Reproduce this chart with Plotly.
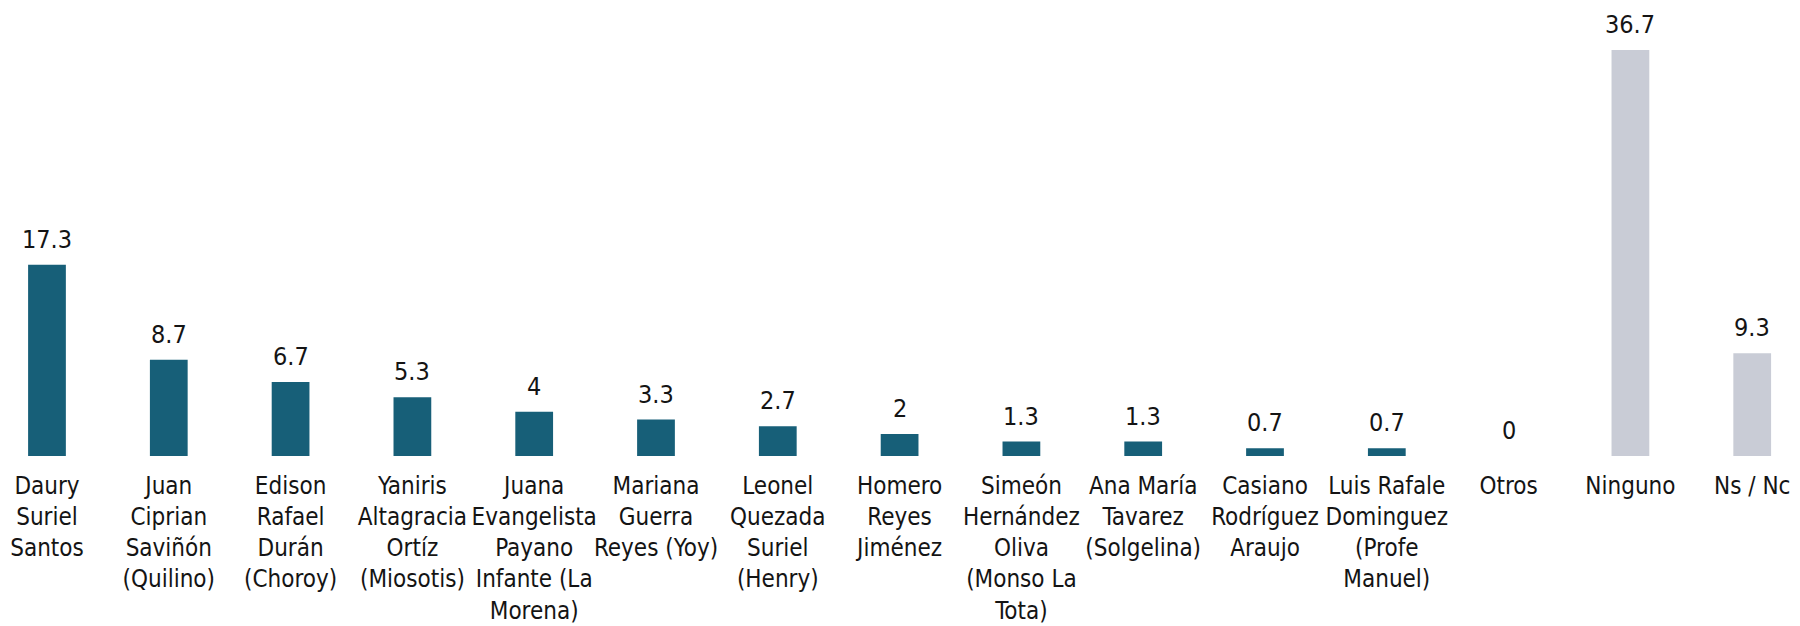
import plotly.graph_objects as go

categories = [
    "Daury<br>Suriel<br>Santos",
    "Juan<br>Ciprian<br>Saviñón<br>(Quilino)",
    "Edison<br>Rafael<br>Durán<br>(Choroy)",
    "Yaniris<br>Altagracia<br>Ortíz<br>(Miosotis)",
    "Juana<br>Evangelista<br>Payano<br>Infante (La<br>Morena)",
    "Mariana<br>Guerra<br>Reyes (Yoy)",
    "Leonel<br>Quezada<br>Suriel<br>(Henry)",
    "Homero<br>Reyes<br>Jiménez",
    "Simeón<br>Hernández<br>Oliva<br>(Monso La<br>Tota)",
    "Ana María<br>Tavarez<br>(Solgelina)",
    "Casiano<br>Rodríguez<br>Araujo",
    "Luis Rafale<br>Dominguez<br>(Profe<br>Manuel)",
    "Otros",
    "Ninguno",
    "Ns / Nc",
]
values = [17.3, 8.7, 6.7, 5.3, 4, 3.3, 2.7, 2, 1.3, 1.3, 0.7, 0.7, 0, 36.7, 9.3]
value_labels = ["17.3", "8.7", "6.7", "5.3", "4", "3.3", "2.7", "2", "1.3", "1.3",
                "0.7", "0.7", "0", "36.7", "9.3"]

TEAL = "#175f78"
GRAY = "#c9ccd6"
colors = [TEAL] * 12 + [GRAY, GRAY, GRAY]

FONT = "DejaVu Sans Condensed, Liberation Sans Narrow, sans-serif"
TEXT = "#141414"

x_idx = list(range(len(categories)))

fig = go.Figure(
    go.Bar(
        x=x_idx,
        y=values,
        marker=dict(color=colors, line=dict(width=0)),
        width=0.31,
        hoverinfo="skip",
    )
)

for i, (v, lab) in enumerate(zip(values, value_labels)):
    fig.add_annotation(
        x=i, y=v, text=lab, showarrow=False,
        yanchor="bottom", xanchor="center", yshift=9,
        font=dict(family=FONT, size=25, color=TEXT),
    )

fig.update_layout(
    width=1800, height=626,
    margin=dict(l=0, r=0, t=0, b=178, autoexpand=False),
    paper_bgcolor="white", plot_bgcolor="white",
    showlegend=False,
    font=dict(family=FONT, color=TEXT),
)
fig.update_xaxes(
    range=[-0.320, 14.458],
    tickmode="array", tickvals=x_idx, ticktext=categories,
    tickangle=0,
    tickfont=dict(family=FONT, size=24, color=TEXT),
    ticks="outside", ticklen=8, tickcolor="rgba(0,0,0,0)",
    showgrid=False, zeroline=False, showline=False, automargin=False,
)
fig.update_yaxes(
    range=[0, 40.5], visible=False, showgrid=False, zeroline=False, automargin=False,
)

fig.write_html("out.html")
